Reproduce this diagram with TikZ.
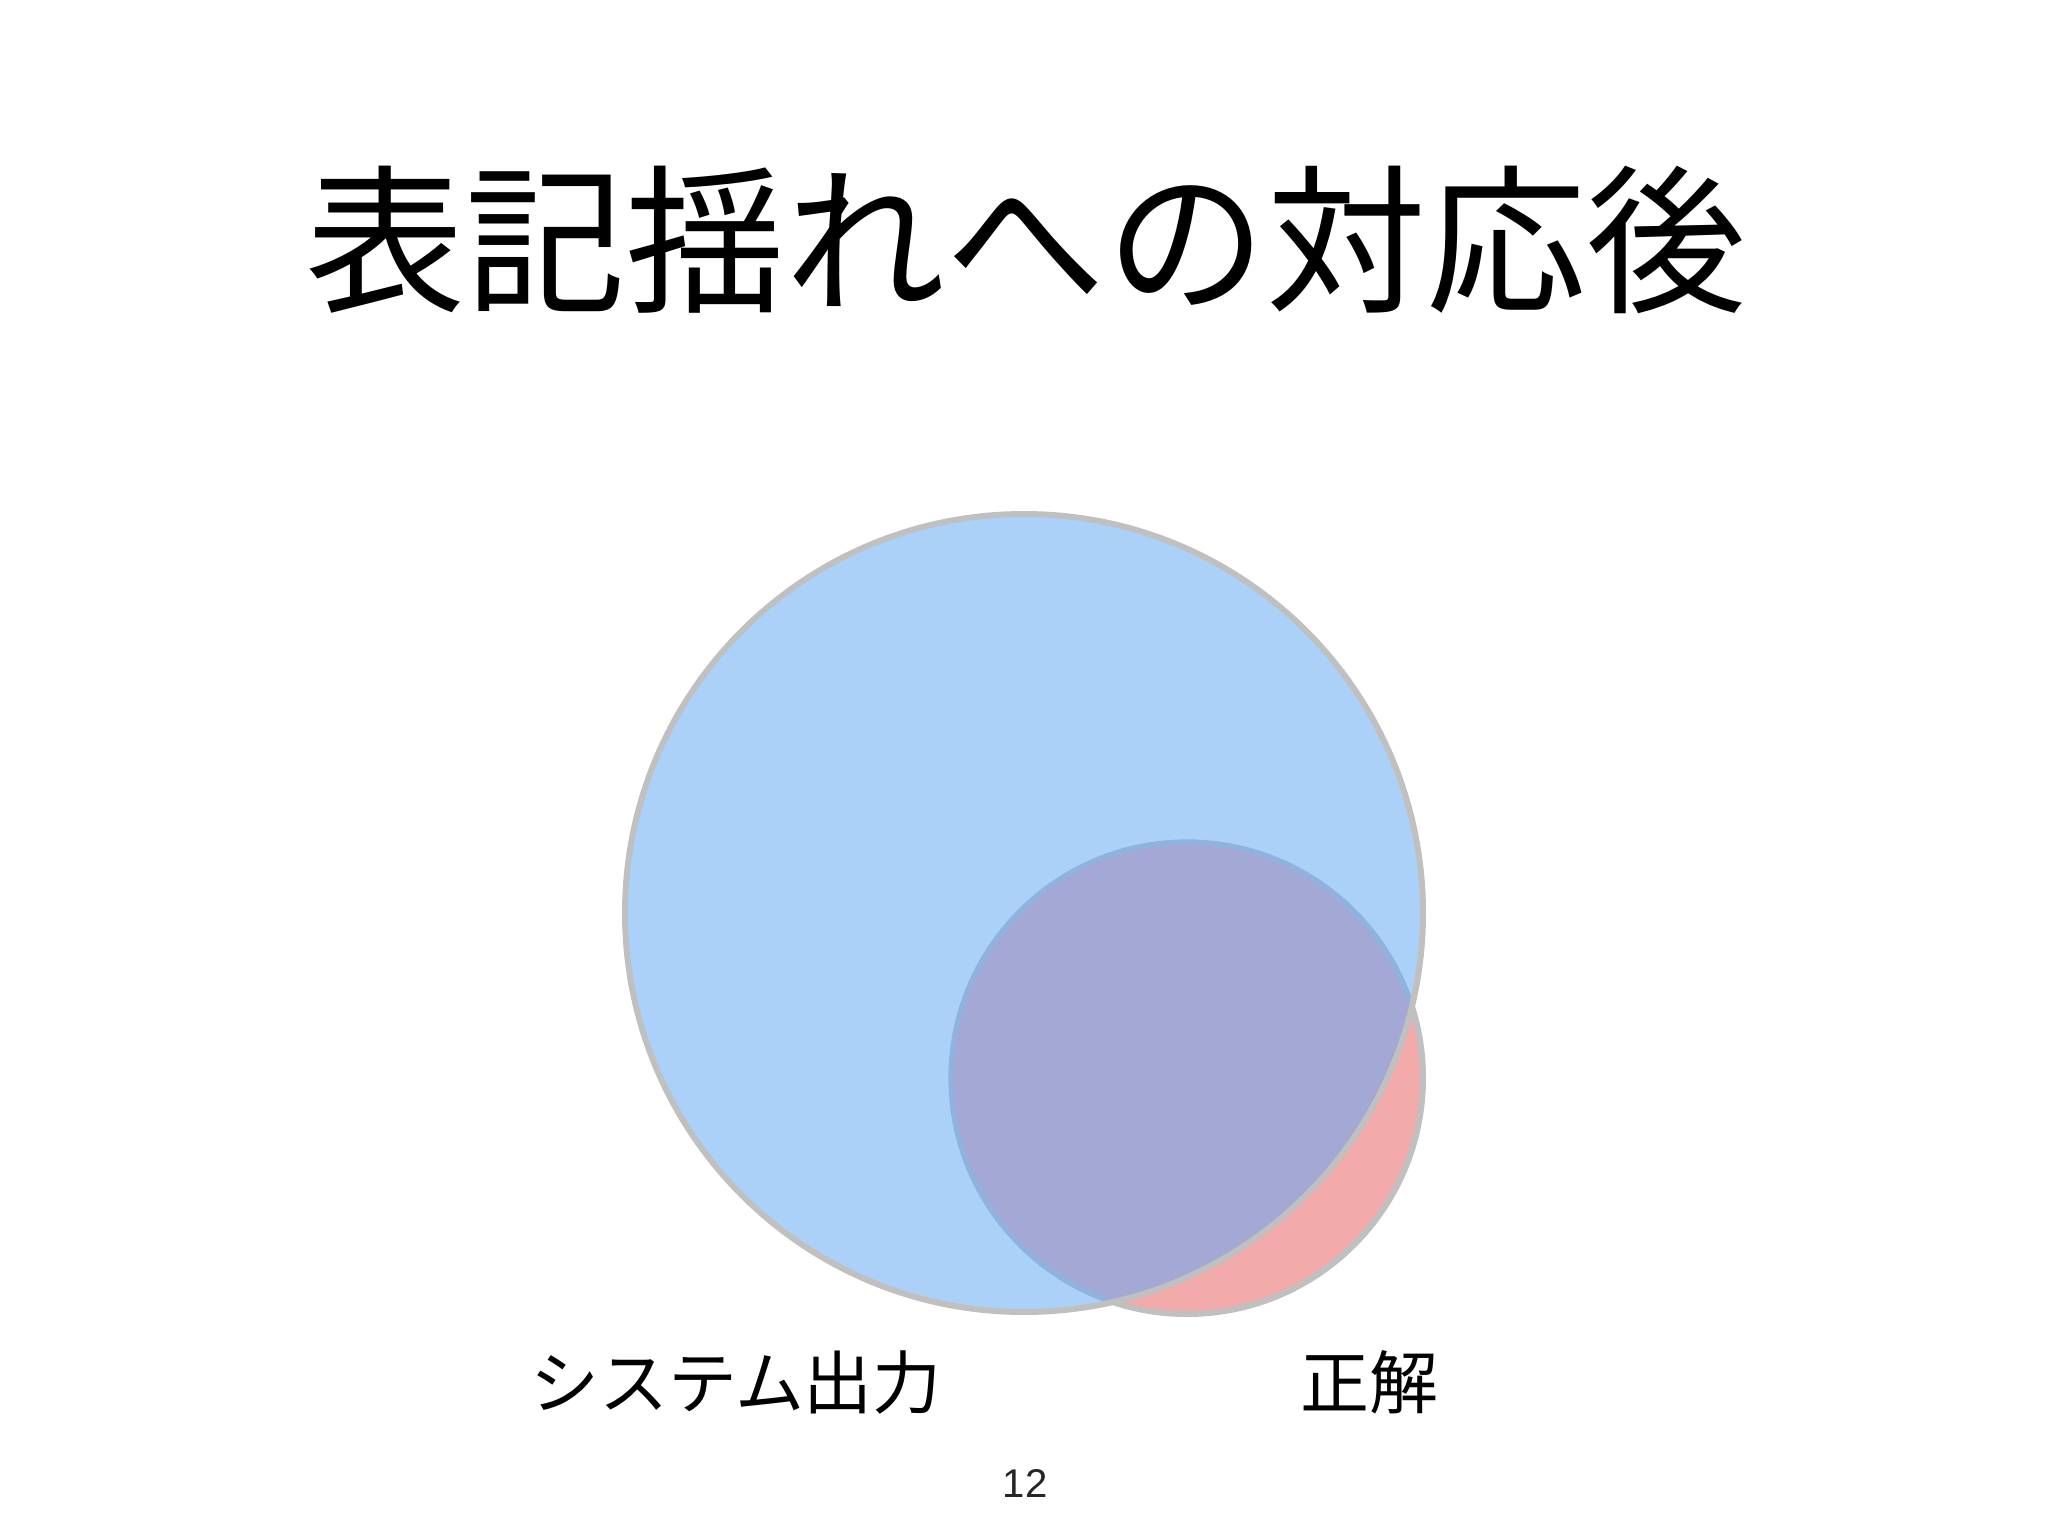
\documentclass[tikz,border=0pt]{standalone}
\usepackage{fontspec}
\setmainfont{Noto Sans CJK JP}
\newfontfamily\jpfont{Noto Sans CJK JP}
\newfontfamily\numfont{Liberation Sans}
\definecolor{bluefill}{HTML}{ABD1F9}
\definecolor{pinkfill}{HTML}{F2AAAA}
\definecolor{overlapfill}{HTML}{A4A8D4}
\definecolor{rimgray}{HTML}{C0C0C0}
\definecolor{rimblue}{HTML}{8FB3DE}
\tikzset{
  rim/.style={draw=rimgray, line width=1.7pt},
  titletext/.style={font=\jpfont\fontsize{45.5pt}{50pt}\selectfont, inner sep=0pt},
  labeltext/.style={font=\jpfont\fontsize{19.6pt}{22pt}\selectfont, inner sep=0pt},
  pagetext/.style={font=\numfont\fontsize{11.4pt}{13pt}\selectfont, inner sep=0pt, text=black!85}
}
\begin{document}
\begin{tikzpicture}[x=0.01cm, y=-0.01cm]
\useasboundingbox (0,0) rectangle (2048,1536);
\fill[white] (0,0) rectangle (2048,1536);
% circle centres
\coordinate (bigc) at (1024,913);
\coordinate (smallc) at (1187,1078);
% answer set (pink)
\fill[pinkfill] (smallc) circle (236);
\draw[rim] (smallc) circle (236);
% system output (blue)
\fill[bluefill] (bigc) circle (399);
% overlap
\begin{scope}
  \clip (bigc) circle (399);
  \fill[overlapfill] (smallc) circle (236);
  \draw[draw=rimblue, line width=1.5pt] (smallc) circle (236);
\end{scope}
\draw[rim] (bigc) circle (399);
% texts
\node[titletext] (title) at (1026,240) {表記揺れへの対応後};
\node[labeltext] (sys) at (736,1382) {システム出力};
\node[labeltext] (ans) at (1369,1382) {正解};
\node[pagetext, anchor=base] (page) at (1025,1497) {12};
\end{tikzpicture}
\end{document}
